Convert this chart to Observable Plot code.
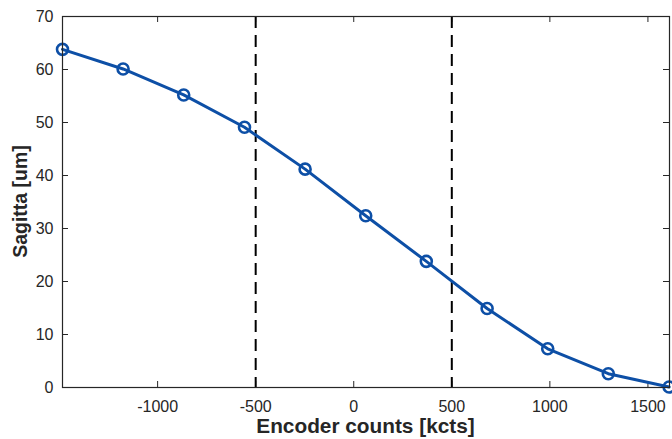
<!DOCTYPE html>
<html>
<head>
<meta charset="utf-8">
<script src="https://cdn.jsdelivr.net/npm/d3@7"></script>
<script src="https://cdn.jsdelivr.net/npm/@observablehq/plot@0.6"></script>
<style>
  html, body { margin: 0; padding: 0; background: #fff; }
  #chart svg { display: block; }
</style>
</head>
<body>
<div id="chart"></div>
<script>
// Sagitta measured against encoder position
const encoderKcts = [-1485, -1176, -867, -557, -248, 61, 370, 680, 989, 1298, 1608];
const sagittaUm   = [63.8, 60.1, 55.2, 49.1, 41.2, 32.4, 23.8, 14.9, 7.3, 2.6, 0.1];

// Limits of the travel range (dashed markers)
const rangeLimits = [-500, 500];

// Axis ticks
const xTicks = [-1000, -500, 0, 500, 1000, 1500];
const yTicks = [0, 10, 20, 30, 40, 50, 60, 70];

const xDomain = [-1485, 1610];
const yDomain = [0, 70];

const data = encoderKcts.map((x, i) => ({x, y: sagittaUm[i]}));

const W = 672, H = 439;
const mL = 62, mR = 3, mT = 16, mB = 52;
const plotW = W - mL - mR, plotH = H - mT - mB;
const tickLen = 6;
const axisColor = "#262626";
const lineColor = "#0d4fa6";
const font = "'Liberation Sans', Arial, sans-serif";

const chart = Plot.plot({
  width: W,
  height: H,
  marginLeft: mL,
  marginRight: mR,
  marginTop: mT,
  marginBottom: mB,
  style: {fontFamily: font, background: "#fff", overflow: "visible"},
  x: {domain: xDomain, label: null},
  y: {domain: yDomain, label: null},
  marks: [
    // tick labels
    Plot.axisX({ticks: xTicks, tickSize: 0, tickPadding: 13, fontSize: 16, color: axisColor, tickFormat: d => String(d), label: null}),
    Plot.axisY({ticks: yTicks, tickSize: 0, tickPadding: 9, fontSize: 16, color: axisColor, tickFormat: d => String(d), label: null}),
    // inward ticks on all four sides
    Plot.tickX(xTicks, {x: d => d, insetTop: plotH - tickLen, stroke: axisColor, strokeWidth: 1}),
    Plot.tickX(xTicks, {x: d => d, insetBottom: plotH - tickLen, stroke: axisColor, strokeWidth: 1}),
    Plot.tickY(yTicks, {y: d => d, insetRight: plotW - tickLen, stroke: axisColor, strokeWidth: 1}),
    Plot.tickY(yTicks, {y: d => d, insetLeft: plotW - tickLen, stroke: axisColor, strokeWidth: 1}),
    // dashed range limits
    Plot.ruleX(rangeLimits, {stroke: "#000", strokeWidth: 2, strokeDasharray: "12,7"}),
    // measured curve
    Plot.line(data, {x: "x", y: "y", stroke: lineColor, strokeWidth: 3}),
    Plot.dot(data, {x: "x", y: "y", r: 5.5, stroke: lineColor, strokeWidth: 2.6, fill: "none"}),
    Plot.frame({stroke: axisColor, strokeWidth: 1.2})
  ]
});

// axis titles
const svg = d3.select(chart);
svg.append("text")
  .attr("x", mL + plotW / 2)
  .attr("y", 433)
  .attr("text-anchor", "middle")
  .attr("font-family", font)
  .attr("font-weight", "bold")
  .attr("font-size", 20.8)
  .attr("fill", axisColor)
  .text("Encoder counts [kcts]");
svg.append("text")
  .attr("transform", `translate(27,${mT + plotH / 2}) rotate(-90)`)
  .attr("text-anchor", "middle")
  .attr("font-family", font)
  .attr("font-weight", "bold")
  .attr("font-size", 19.5)
  .attr("fill", axisColor)
  .text("Sagitta [um]");

document.getElementById("chart").appendChild(chart);
</script>
</body>
</html>
